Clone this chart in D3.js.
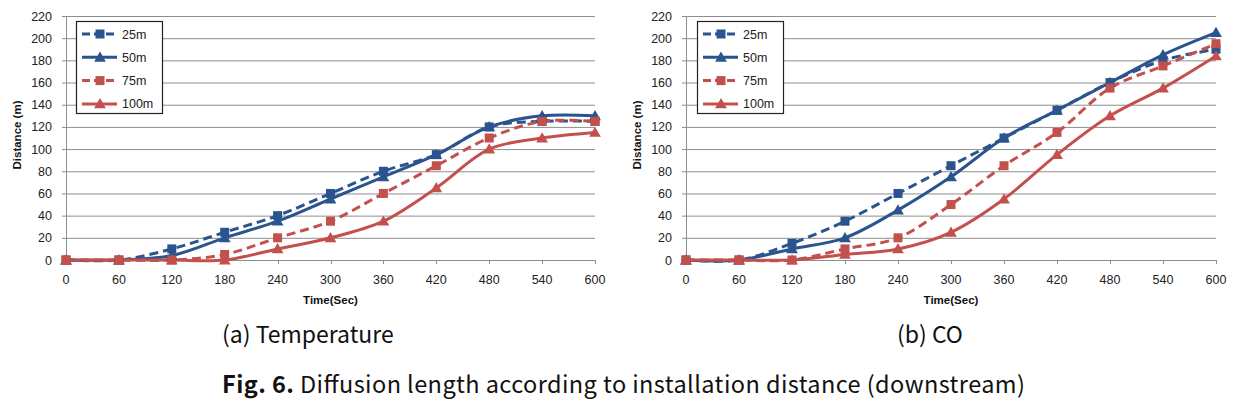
<!DOCTYPE html>
<html><head><meta charset="utf-8">
<script src="https://cdn.jsdelivr.net/npm/d3@7"></script>
<style>
html,body{margin:0;padding:0;background:#fff;}
svg{display:block;}
</style></head>
<body>
<svg id="c" width="1250" height="402"></svg>
<script>
const times = [0,60,120,180,240,300,360,420,480,540,600];
const seriesNames = ["25m","50m","75m","100m"];
const yTicks = [0,20,40,60,80,100,120,140,160,180,200,220];

// (a) Temperature
const temp25  = [0,0,10,25,40,60,80,95,120,125,125];
const temp50  = [0,0,4,20,35,55,75,95,120,130,130];
const temp75  = [0,0,0,5,20,35,60,85,110,125,125];
const temp100 = [0,0,0,0,10,20,35,65,100,110,115];

// (b) CO
const co25  = [0,0,15,35,60,85,110,135,160,180,190];
const co50  = [0,0,10,20,45,75,110,135,160,185,205];
const co75  = [0,0,0,10,20,50,85,115,155,175,195];
const co100 = [0,0,0,5,10,25,55,95,130,155,184];

const captions = ["(a) Temperature","(b) CO"];
const figLabel = "Fig. 6.";
const figText = " Diffusion length according to installation distance (downstream)";

const BLUE = "#2a5490", RED = "#c4504d";
const styles = [
  {color:BLUE, dash:"9,5", marker:"square"},
  {color:BLUE, dash:null, marker:"triangle"},
  {color:RED, dash:"9,5", marker:"square"},
  {color:RED, dash:null, marker:"triangle"}
];

const svg = d3.select("#c");
const tickFont = "'Liberation Sans', Arial, sans-serif";

function drawMarker(g, type, x, y, color){
  if(type==="square"){
    g.append("rect").attr("x",x-4.5).attr("y",y-4.5).attr("width",9).attr("height",9).attr("fill",color);
  } else {
    g.append("path").attr("d", d3.symbol(d3.symbolTriangle, 60)()).attr("transform",`translate(${x},${y+1})`).attr("fill",color);
  }
}

function chart(opts){
  const {x0,x1,y0,y1,data,legendX,titleX} = opts;
  const g = svg.append("g");
  const x = d3.scaleLinear().domain([0,600]).range([x0,x1]);
  const y = d3.scaleLinear().domain([0,220]).range([y1,y0]);

  g.append("g").selectAll("line").data(yTicks).join("line")
    .attr("x1",x0-4).attr("x2",x1).attr("y1",d=>y(d)+0.5).attr("y2",d=>y(d)+0.5)
    .attr("stroke","#8e8e8e").attr("stroke-width",1);
  g.append("line").attr("x1",x0+0.5).attr("x2",x0+0.5).attr("y1",y0).attr("y2",y1+0.5)
    .attr("stroke","#8e8e8e");
  g.append("g").selectAll("line").data(times).join("line")
    .attr("x1",d=>Math.round(x(d))+0.5).attr("x2",d=>Math.round(x(d))+0.5).attr("y1",y1).attr("y2",y1+4)
    .attr("stroke","#8e8e8e");

  g.append("g").selectAll("text").data(yTicks).join("text")
    .attr("x",x0-14).attr("y",d=>y(d)).attr("dy","0.36em").attr("text-anchor","end")
    .style("font-family",tickFont).style("font-size","12.5px").attr("fill","#222")
    .text(d=>d);
  g.append("g").selectAll("text").data(times).join("text")
    .attr("x",d=>x(d)).attr("y",y1+24).attr("text-anchor","middle")
    .style("font-family",tickFont).style("font-size","12.5px").attr("fill","#222")
    .text(d=>d);

  g.append("text").attr("transform",`translate(${titleX},${(y0+y1)/2-3}) rotate(-90)`)
    .attr("text-anchor","middle").attr("dy","0.35em")
    .style("font-family","'Liberation Sans Narrow','Liberation Sans',Arial,sans-serif").style("font-size","11.5px").style("font-weight","bold").attr("fill","#111")
    .text("Distance  (m)");
  g.append("text").attr("x",(x0+x1)/2).attr("y",y1+44).attr("text-anchor","middle")
    .style("font-family","'Liberation Sans Narrow','Liberation Sans',Arial,sans-serif").style("font-size","11.5px").style("font-weight","bold").attr("fill","#111")
    .text("Time(Sec)");

  const line = d3.line().x((d,i)=>x(times[i])).y(d=>y(d)).curve(d3.curveCatmullRom.alpha(0.5));
  data.forEach((vals,k)=>{
    const s = styles[k];
    g.append("path").attr("d",line(vals)).attr("fill","none").attr("stroke",s.color)
      .attr("stroke-width",3).attr("stroke-dasharray",s.dash);
  });
  data.forEach((vals,k)=>{
    const s = styles[k];
    vals.forEach((v,i)=>drawMarker(g,s.marker,x(times[i]),y(v),s.color));
  });

  const lg = g.append("g");
  lg.append("rect").attr("x",legendX+0.5).attr("y",21.5).attr("width",86).attr("height",92)
    .attr("fill","#fff").attr("stroke","#222").attr("stroke-width",1.2);
  seriesNames.forEach((nm,k)=>{
    const s = styles[k];
    const ly = 34 + k*23.3;
    lg.append("line").attr("x1",legendX+6).attr("x2",legendX+41).attr("y1",ly).attr("y2",ly)
      .attr("stroke",s.color).attr("stroke-width",3).attr("stroke-dasharray",s.dash?"8,4":null);
    drawMarker(lg,s.marker,legendX+24,ly,s.color);
    lg.append("text").attr("x",legendX+46).attr("y",ly).attr("dy","0.36em")
      .style("font-family",tickFont).style("font-size","12.5px").attr("fill","#222").text(nm);
  });
}

chart({x0:66,x1:595,y0:16,y1:260,data:[temp25,temp50,temp75,temp100],legendX:76,titleX:17});
chart({x0:686,x1:1216,y0:16,y1:260,data:[co25,co50,co75,co100],legendX:697,titleX:637});

const capFont = "'Noto Sans CJK KR','Noto Sans',sans-serif";
svg.append("text").attr("x",222).attr("y",343).style("font-family",capFont).style("font-size","23px").attr("fill","#111").text(captions[0]);
svg.append("text").attr("x",897).attr("y",343).style("font-family",capFont).style("font-size","23px").attr("fill","#111").text(captions[1]);
const ft = svg.append("text").attr("x",222).attr("y",393).attr("textLength",803).attr("lengthAdjust","spacing")
  .style("font-family",capFont).style("font-size","23.5px").attr("fill","#111");
ft.append("tspan").style("font-weight","bold").text(figLabel);
ft.append("tspan").text(figText);
</script>
</body></html>
